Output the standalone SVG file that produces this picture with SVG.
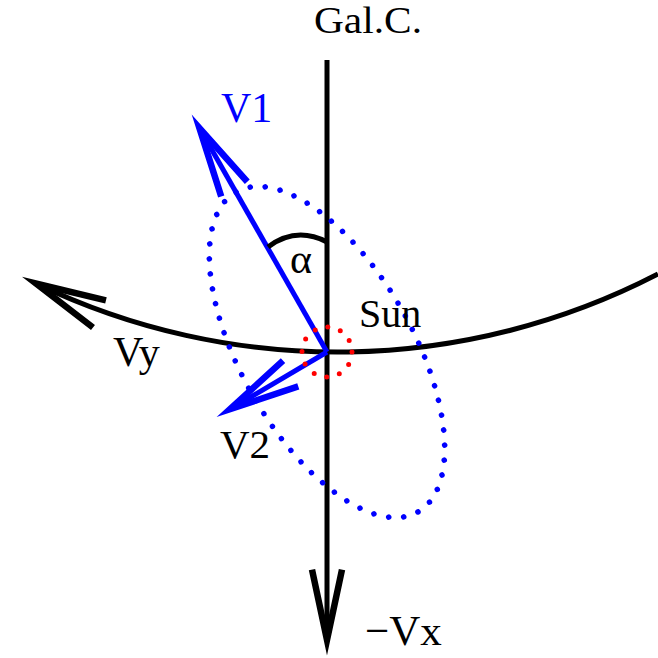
<svg xmlns="http://www.w3.org/2000/svg" width="658" height="658" viewBox="0 0 658 658">
<style>
  text { font-family: "Liberation Serif", "Times New Roman", serif; }
  .blk { fill: none; stroke: #000; stroke-width: 5; }
  .blu { fill: none; stroke: #0000ff; stroke-width: 5; }
  .dotb { fill: none; stroke: #0000ff; stroke-width: 5.5; stroke-linecap: round; stroke-dasharray: 0 15.1; }
  .dotr { fill: none; stroke: #ff0000; stroke-width: 5; stroke-linecap: round; stroke-dasharray: 0 13.1; }
</style>
<defs>
  <marker id="headK" markerUnits="userSpaceOnUse" orient="auto" refX="0" refY="0" markerWidth="1" markerHeight="1" overflow="visible">
    <path d="M -70.4 -15 L 0 0 L -70.4 15" fill="none" stroke="#000" stroke-width="6.5" stroke-miterlimit="12"/>
  </marker>
  <marker id="headB" markerUnits="userSpaceOnUse" orient="auto" refX="0" refY="0" markerWidth="1" markerHeight="1" overflow="visible">
    <path d="M -70.4 -15 L 0 0 L -70.4 15" fill="none" stroke="#0000ff" stroke-width="6.5" stroke-miterlimit="12"/>
  </marker>
</defs>
<rect width="658" height="658" fill="#fff"/>
<g id="connectors">
  <path id="axis-x" class="blk" d="M 327 60 L 327 640" marker-end="url(#headK)"/>
  <path id="orbit-vy" class="blk" d="M 658 274 A 697 697 0 0 1 36 283.5" marker-end="url(#headK)"/>
  <path id="v1" class="blu" d="M 327 352 L 199.4 128" marker-end="url(#headB)"/>
  <path id="v2" class="blu" d="M 327 352 L 230 409.2" marker-end="url(#headB)"/>
  <path id="alpha-arc" class="blk" d="M 268 247 Q 296 226 327 242"/>
</g>
<g id="ellipse">
  <ellipse class="dotb" cx="327" cy="352" rx="184" ry="86" transform="rotate(60.4 327 352)"/>
</g>
<g id="sun">
  <circle class="dotr" cx="327" cy="352" r="25"/>
  <text x="359" y="327" font-size="40">Sun</text>
</g>
<g id="labels">
  <text id="galc" x="314" y="33" font-size="38" textLength="108" lengthAdjust="spacingAndGlyphs">Gal.C.</text>
  <text id="lv1" x="221" y="122" font-size="42" fill="#0000ff">V1</text>
  <text id="lalpha" x="290" y="273" font-size="42">α</text>
  <text id="lvy" x="113" y="366" font-size="42">Vy</text>
  <text id="lv2" x="220" y="458" font-size="41">V2</text>
  <text id="lvx" x="365" y="645" font-size="43">−Vx</text>
</g>
</svg>
